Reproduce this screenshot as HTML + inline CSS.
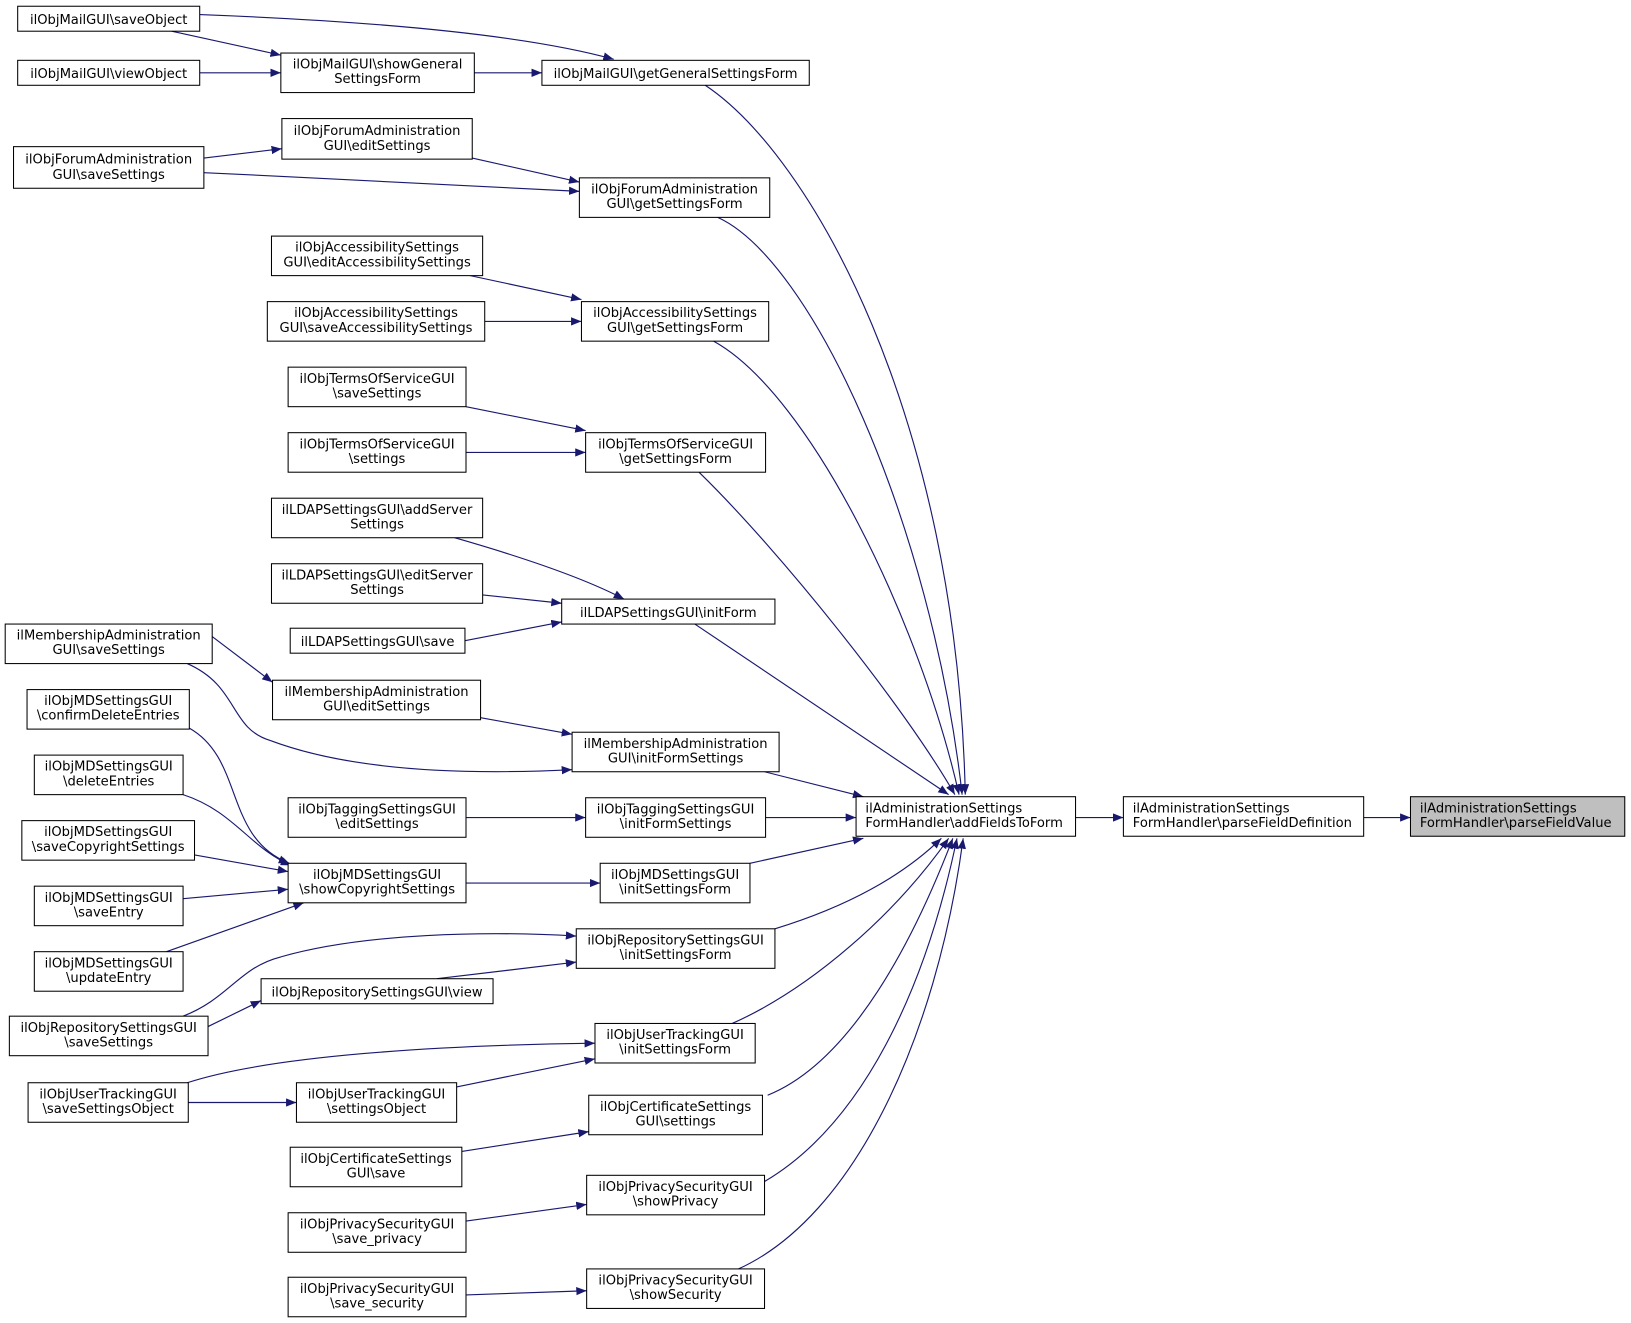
<!DOCTYPE html>
<html><head><meta charset="utf-8"><style>
html,body{margin:0;padding:0;background:#fff;width:1631px;height:1323px;overflow:hidden}
svg text{font-family:"DejaVu Sans","Liberation Sans",sans-serif;font-size:12.6px;fill:#000}
</style></head><body>
<svg width="1631" height="1323" viewBox="0 0 1568 1272" preserveAspectRatio="none" xmlns="http://www.w3.org/2000/svg">
<defs><marker id="a" viewBox="0 0 10 8" refX="10" refY="4" markerWidth="10" markerHeight="8" markerUnits="userSpaceOnUse" orient="auto"><path d="M0,0 L10,4 L0,8 z" fill="#191970"/></marker></defs>
<g fill="none" stroke="#191970" stroke-width="1.1" marker-end="url(#a)">
<path d="M165,30 L270,53"/>
<path d="M192,70 L270,70"/>
<path d="M192,14 C350,20 500,32 590,57"/>
<path d="M456,70 L521,70"/>
<path d="M678,82 C780,150 920,400 928,764"/>
<path d="M196,152 L271,143"/>
<path d="M196,166 C320,172 450,178 557,184"/>
<path d="M454,152 L557,175"/>
<path d="M690,209 C780,250 895,500 925,764"/>
<path d="M452,265 L559,288"/>
<path d="M466,309 L559,309"/>
<path d="M686,328 C780,380 885,600 922,764"/>
<path d="M448,391 L563,414"/>
<path d="M448,435 L563,435"/>
<path d="M672,454 C750,530 870,680 918,764"/>
<path d="M437,517 C500,535 560,555 600,576"/>
<path d="M464,572 L540,580"/>
<path d="M447,616 L540,598"/>
<path d="M668,600 L912,764"/>
<path d="M204,612 L262,656"/>
<path d="M180,638 C230,660 220,700 260,712 C340,742 450,745 550,740"/>
<path d="M462,690 L550,706"/>
<path d="M735,742 L830,766"/>
<path d="M182,700 C235,730 215,805 278,830"/>
<path d="M176,764 C225,780 240,815 280,832"/>
<path d="M187,822 L277,838"/>
<path d="M176,864 L277,855"/>
<path d="M160,915 L292,868"/>
<path d="M448,849 L577,849"/>
<path d="M721,830 L830,806"/>
<path d="M448,786 L563,786"/>
<path d="M736,786 L823,786"/>
<path d="M176,977 C220,960 230,930 270,920 C350,897 470,895 554,900"/>
<path d="M200,987 L251,962"/>
<path d="M420,941 L554,925"/>
<path d="M745,893 C820,870 870,840 905,806"/>
<path d="M180,1041 C260,1015 420,1005 572,1003"/>
<path d="M181,1060 L285,1060"/>
<path d="M439,1045 L572,1018"/>
<path d="M704,984 C780,950 860,880 912,806"/>
<path d="M444,1107 L566,1088"/>
<path d="M738,1053 C820,1020 880,900 916,806"/>
<path d="M448,1174 L564,1158"/>
<path d="M735,1136 C830,1080 890,950 920,806"/>
<path d="M448,1245 L564,1241"/>
<path d="M710,1220 C820,1170 900,1000 926,806"/>
<path d="M1034,786 L1080,786"/>
<path d="M1311,786 L1356,786"/>
</g>
<g stroke="#000" stroke-width="1" fill="#fff">
<rect x="17" y="6" width="175" height="24"/>
<rect x="17" y="58" width="175" height="24"/>
<rect x="270" y="51" width="186" height="38"/>
<rect x="521" y="58" width="257" height="24"/>
<rect x="13" y="141" width="183" height="40"/>
<rect x="271" y="114" width="183" height="39"/>
<rect x="557" y="171" width="183" height="38"/>
<rect x="261" y="227" width="203" height="38"/>
<rect x="257" y="290" width="209" height="38"/>
<rect x="559" y="290" width="180" height="38"/>
<rect x="277" y="353" width="171" height="38"/>
<rect x="277" y="416" width="171" height="38"/>
<rect x="563" y="416" width="173" height="38"/>
<rect x="261" y="479" width="203" height="38"/>
<rect x="261" y="542" width="203" height="38"/>
<rect x="279" y="604" width="168" height="24"/>
<rect x="540" y="576" width="205" height="24"/>
<rect x="5" y="600" width="199" height="38"/>
<rect x="262" y="654" width="200" height="38"/>
<rect x="550" y="704" width="199" height="38"/>
<rect x="26" y="663" width="156" height="38"/>
<rect x="33" y="726" width="143" height="38"/>
<rect x="21" y="789" width="166" height="38"/>
<rect x="33" y="852" width="143" height="38"/>
<rect x="33" y="915" width="143" height="38"/>
<rect x="277" y="767" width="171" height="38"/>
<rect x="563" y="767" width="173" height="38"/>
<rect x="277" y="830" width="171" height="38"/>
<rect x="577" y="830" width="144" height="38"/>
<rect x="554" y="893" width="191" height="38"/>
<rect x="251" y="941" width="223" height="24"/>
<rect x="9" y="977" width="191" height="38"/>
<rect x="572" y="984" width="154" height="38"/>
<rect x="27" y="1041" width="154" height="38"/>
<rect x="285" y="1041" width="154" height="38"/>
<rect x="566" y="1053" width="167" height="38"/>
<rect x="279" y="1103" width="165" height="38"/>
<rect x="564" y="1130" width="171" height="38"/>
<rect x="277" y="1166" width="171" height="38"/>
<rect x="277" y="1228" width="171" height="38"/>
<rect x="564" y="1220" width="171" height="38"/>
<rect x="823" y="766" width="211" height="38"/>
<rect x="1080" y="766" width="231" height="38"/>
<rect x="1356" y="766" width="206" height="38" fill="#bfbfbf"/>
</g>
<g text-anchor="middle">
<text x="104.5" y="23">ilObjMailGUI\saveObject</text>
<text x="104.5" y="75">ilObjMailGUI\viewObject</text>
<text x="363" y="66">ilObjMailGUI\showGeneral</text><text x="363" y="80">SettingsForm</text>
<text x="649.5" y="75">ilObjMailGUI\getGeneralSettingsForm</text>
<text x="104.5" y="157">ilObjForumAdministration</text><text x="104.5" y="172">GUI\saveSettings</text>
<text x="362.5" y="130">ilObjForumAdministration</text><text x="362.5" y="144">GUI\editSettings</text>
<text x="648.5" y="186">ilObjForumAdministration</text><text x="648.5" y="200">GUI\getSettingsForm</text>
<text x="362.5" y="242">ilObjAccessibilitySettings</text><text x="362.5" y="256">GUI\editAccessibilitySettings</text>
<text x="361.5" y="305">ilObjAccessibilitySettings</text><text x="361.5" y="319">GUI\saveAccessibilitySettings</text>
<text x="649" y="305">ilObjAccessibilitySettings</text><text x="649" y="319">GUI\getSettingsForm</text>
<text x="362.5" y="368">ilObjTermsOfServiceGUI</text><text x="362.5" y="382">\saveSettings</text>
<text x="362.5" y="431">ilObjTermsOfServiceGUI</text><text x="362.5" y="445">\settings</text>
<text x="649.5" y="431">ilObjTermsOfServiceGUI</text><text x="649.5" y="445">\getSettingsForm</text>
<text x="362.5" y="494">ilLDAPSettingsGUI\addServer</text><text x="362.5" y="508">Settings</text>
<text x="362.5" y="557">ilLDAPSettingsGUI\editServer</text><text x="362.5" y="571">Settings</text>
<text x="363" y="621">ilLDAPSettingsGUI\save</text>
<text x="642.5" y="593">ilLDAPSettingsGUI\initForm</text>
<text x="104.5" y="615">ilMembershipAdministration</text><text x="104.5" y="629">GUI\saveSettings</text>
<text x="362" y="669">ilMembershipAdministration</text><text x="362" y="683">GUI\editSettings</text>
<text x="649.5" y="719">ilMembershipAdministration</text><text x="649.5" y="733">GUI\initFormSettings</text>
<text x="104" y="678">ilObjMDSettingsGUI</text><text x="104" y="692">\confirmDeleteEntries</text>
<text x="104.5" y="741">ilObjMDSettingsGUI</text><text x="104.5" y="755">\deleteEntries</text>
<text x="104" y="804">ilObjMDSettingsGUI</text><text x="104" y="818">\saveCopyrightSettings</text>
<text x="104.5" y="867">ilObjMDSettingsGUI</text><text x="104.5" y="881">\saveEntry</text>
<text x="104.5" y="930">ilObjMDSettingsGUI</text><text x="104.5" y="944">\updateEntry</text>
<text x="362.5" y="782">ilObjTaggingSettingsGUI</text><text x="362.5" y="796">\editSettings</text>
<text x="649.5" y="782">ilObjTaggingSettingsGUI</text><text x="649.5" y="796">\initFormSettings</text>
<text x="362.5" y="845">ilObjMDSettingsGUI</text><text x="362.5" y="859">\showCopyrightSettings</text>
<text x="649" y="845">ilObjMDSettingsGUI</text><text x="649" y="859">\initSettingsForm</text>
<text x="649.5" y="908">ilObjRepositorySettingsGUI</text><text x="649.5" y="922">\initSettingsForm</text>
<text x="362.5" y="958">ilObjRepositorySettingsGUI\view</text>
<text x="104.5" y="992">ilObjRepositorySettingsGUI</text><text x="104.5" y="1006">\saveSettings</text>
<text x="649" y="999">ilObjUserTrackingGUI</text><text x="649" y="1013">\initSettingsForm</text>
<text x="104" y="1056">ilObjUserTrackingGUI</text><text x="104" y="1070">\saveSettingsObject</text>
<text x="362" y="1056">ilObjUserTrackingGUI</text><text x="362" y="1070">\settingsObject</text>
<text x="649.5" y="1068">ilObjCertificateSettings</text><text x="649.5" y="1082">GUI\settings</text>
<text x="361.5" y="1118">ilObjCertificateSettings</text><text x="361.5" y="1132">GUI\save</text>
<text x="649.5" y="1145">ilObjPrivacySecurityGUI</text><text x="649.5" y="1159">\showPrivacy</text>
<text x="362.5" y="1181">ilObjPrivacySecurityGUI</text><text x="362.5" y="1195">\save_privacy</text>
<text x="362.5" y="1243">ilObjPrivacySecurityGUI</text><text x="362.5" y="1257">\save_security</text>
<text x="649.5" y="1235">ilObjPrivacySecurityGUI</text><text x="649.5" y="1249">\showSecurity</text>
</g>
<g>
<text x="832" y="781">ilAdministrationSettings</text><text x="832" y="795">FormHandler\addFieldsToForm</text>
<text x="1089" y="781">ilAdministrationSettings</text><text x="1089" y="795">FormHandler\parseFieldDefinition</text>
<text x="1365" y="781">ilAdministrationSettings</text><text x="1365" y="795">FormHandler\parseFieldValue</text>
</g>
</svg>
</body></html>
